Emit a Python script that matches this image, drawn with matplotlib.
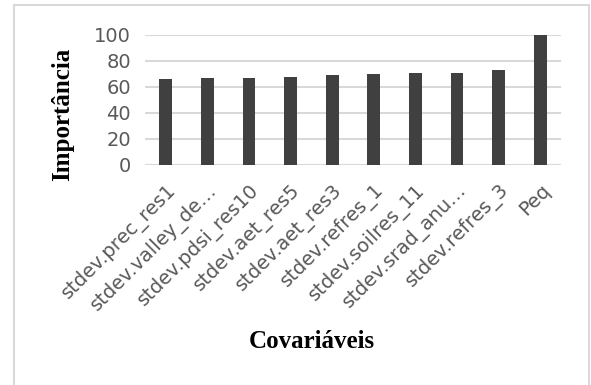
import matplotlib
matplotlib.use("Agg")
import matplotlib.pyplot as plt
from matplotlib.patches import Rectangle

# data
covariates = ["stdev.prec_res1", "stdev.valley_de\u2026", "stdev.pdsi_res10",
              "stdev.aet_res5", "stdev.aet_res3", "stdev.refres_1",
              "stdev.soilres_11", "stdev.srad_anu\u2026", "stdev.refres_3", "Peq"]
importance = [66.2, 66.9, 67.2, 67.4, 69.5, 70.0, 70.5, 70.8, 73.0, 100.0]
yticks = [0, 20, 40, 60, 80, 100]

fig = plt.figure(figsize=(5.91, 3.85), dpi=100)
ax = fig.add_axes([145 / 591, 1 - 165 / 385, (561 - 145) / 591, 130 / 385])

x = range(len(covariates))
ax.bar(x, importance, width=0.31, color="#404040", zorder=3)

ax.set_ylim(0, 100)
ax.set_xlim(-0.5, len(covariates) - 0.5)
ax.set_yticks(yticks)
ax.yaxis.grid(True, color="#d9d9d9", linewidth=1.5, zorder=0)
for s in ax.spines.values():
    s.set_visible(False)
ax.axhline(0, color="#d9d9d9", linewidth=1.5, zorder=1)
ax.tick_params(length=0, colors="#595959", labelsize=14)
ax.tick_params(axis="y", pad=10)
ax.set_xticks(list(x))
ax.set_xticklabels(covariates, rotation=45, ha="right", rotation_mode="anchor",
                   fontsize=14, color="#595959")
ax.tick_params(axis="x", pad=11)

fig.text(63 / 591, 1 - 114 / 385, "Importância", rotation=90, ha="center",
         va="center", family="Liberation Serif", weight="bold", fontsize=18)
fig.text(312 / 591, 1 - 342 / 385, "Covariáveis", ha="center", va="center",
         family="Liberation Serif", weight="bold", fontsize=18)

# light frame around the chart area
fig.patches.append(Rectangle((14 / 591, -0.01), (589 - 14) / 591, 1 - 5 / 385 + 0.01,
                             transform=fig.transFigure, fill=False,
                             edgecolor="#d9d9d9", linewidth=1.5))

fig.savefig("out.png", dpi=100)
